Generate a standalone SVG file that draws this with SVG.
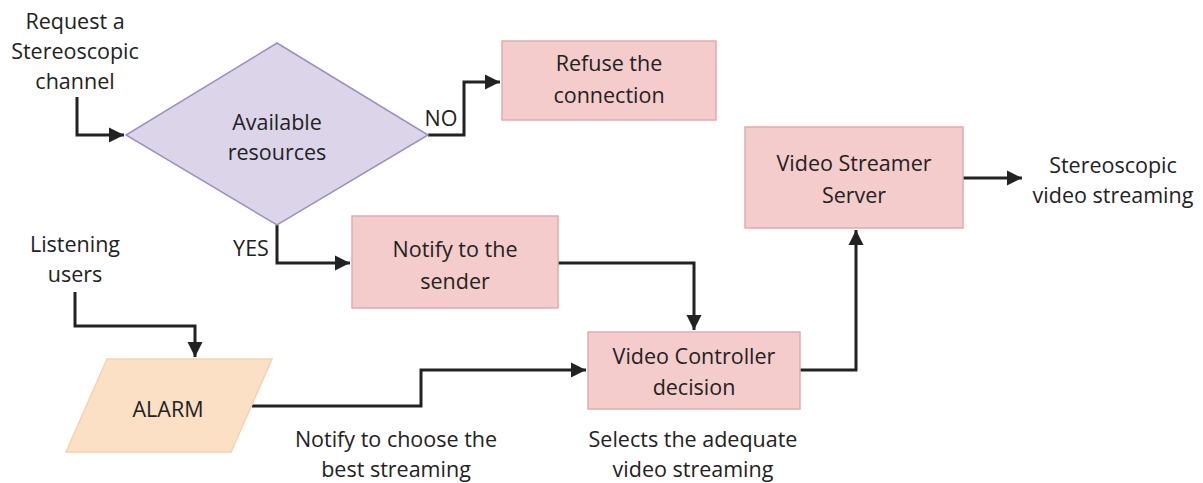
<svg xmlns="http://www.w3.org/2000/svg" width="1203" height="483" viewBox="0 0 1203 483">
<defs>
<style>
text{font-family:"Open Sans","Liberation Sans",sans-serif;font-size:21.5px;fill:#222;text-anchor:middle}
.box{fill:#f4cccc;stroke:#e3aaaa;stroke-width:1.5}
.dia{fill:#dcd5ea;stroke:#9c8fc2;stroke-width:1.5}
.io{fill:#fce0c6;stroke:#f7d1aa;stroke-width:1.5}
.c{fill:none;stroke:#222;stroke-width:3}
</style>
<marker id="ah" viewBox="0 0 10 10" refX="10" refY="5" markerWidth="5" markerHeight="5.4" markerUnits="strokeWidth" orient="auto">
<path d="M0,0L10,5L0,10z" fill="#222"/>
</marker>
</defs>
<rect width="1203" height="483" fill="#fff"/>
<g id="connectors">
<path class="c" d="M77,97V135H124" marker-end="url(#ah)"/>
<path class="c" d="M428,135H464V82H500" marker-end="url(#ah)"/>
<path class="c" d="M277,225V263H350" marker-end="url(#ah)"/>
<path class="c" d="M558,263H694V330" marker-end="url(#ah)"/>
<path class="c" d="M75,292V326H195V357" marker-end="url(#ah)"/>
<path class="c" d="M252,406H421V370H586" marker-end="url(#ah)"/>
<path class="c" d="M800,370H856V230" marker-end="url(#ah)"/>
<path class="c" d="M963,178H1022" marker-end="url(#ah)"/>
<text x="441" y="126">NO</text>
<text x="251" y="256">YES</text>
</g>
<g id="request">
<text x="75" y="29">Request a</text>
<text x="75" y="59">Stereoscopic</text>
<text x="75" y="89">channel</text>
</g>
<g id="available">
<polygon class="dia" points="277,43 428,135 277,225 126,135"/>
<text x="277" y="130">Available</text>
<text x="277" y="160">resources</text>
</g>
<g id="refuse">
<rect class="box" x="502" y="41" width="214" height="79"/>
<text x="609" y="71">Refuse the</text>
<text x="609" y="103">connection</text>
</g>
<g id="notify">
<rect class="box" x="352" y="216" width="206" height="92"/>
<text x="455" y="257">Notify to the</text>
<text x="455" y="289">sender</text>
</g>
<g id="streamer">
<rect class="box" x="745" y="127" width="218" height="101"/>
<text x="854" y="171">Video Streamer</text>
<text x="854" y="203">Server</text>
</g>
<g id="output">
<text x="1113" y="173">Stereoscopic</text>
<text x="1113" y="203">video streaming</text>
</g>
<g id="listening">
<text x="75" y="252">Listening</text>
<text x="75" y="282">users</text>
</g>
<g id="alarm">
<polygon class="io" points="107,359 272,359 231,452 66,452"/>
<text x="168" y="417">ALARM</text>
</g>
<g id="controller">
<rect class="box" x="588" y="332" width="212" height="77"/>
<text x="694" y="364">Video Controller</text>
<text x="694" y="395">decision</text>
</g>
<g id="notify-label">
<text x="396" y="447">Notify to choose the</text>
<text x="396" y="477">best streaming</text>
</g>
<g id="selects-label">
<text x="693" y="447">Selects the adequate</text>
<text x="693" y="477">video streaming</text>
</g>
</svg>
